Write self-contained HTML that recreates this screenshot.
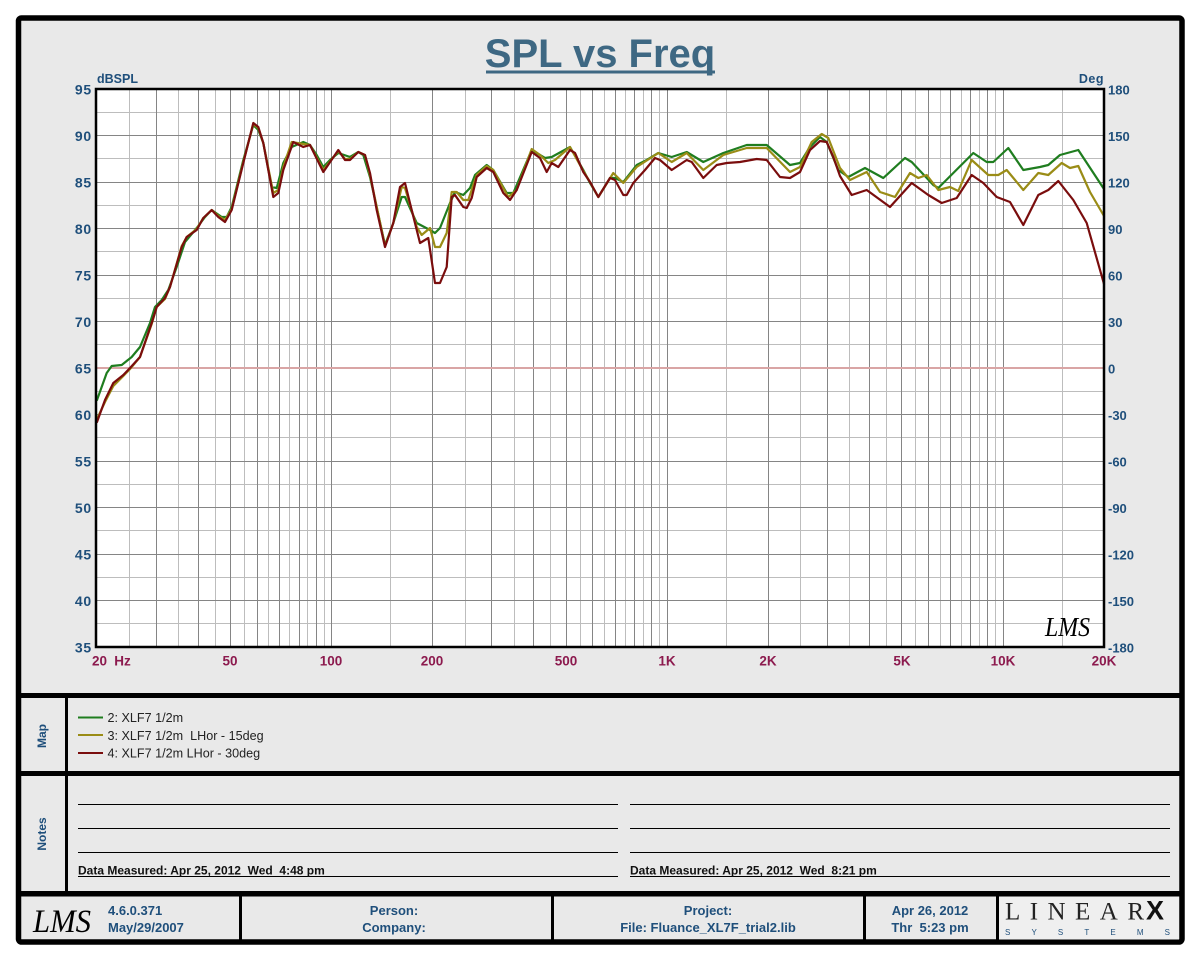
<!DOCTYPE html>
<html>
<head>
<meta charset="utf-8">
<style>
html,body{margin:0;padding:0;background:#ffffff;}
svg{display:block;}
</style>
</head>
<body>
<svg width="1200" height="960" viewBox="0 0 1200 960" xmlns="http://www.w3.org/2000/svg" font-family="'Liberation Sans', Arial, sans-serif">
  <!-- outer frame -->
  <rect x="18.5" y="18" width="1163.5" height="924" rx="3" fill="#e9e9e9" stroke="#000" stroke-width="5.5"/>

  <!-- title -->
  <text x="600" y="67" text-anchor="middle" font-size="40" font-weight="bold" fill="#3e6883">SPL vs Freq</text>
  <rect x="486" y="70.5" width="229" height="3" fill="#3e6883"/>

  <!-- plot background -->
  <rect x="96" y="89" width="1008" height="558" fill="#ffffff"/>

  <!-- light grid -->
  <g stroke="#bdbdbd" stroke-width="1" shape-rendering="crispEdges">
    <line x1="129.5" y1="89" x2="129.5" y2="647"/>
    <line x1="178.5" y1="89" x2="178.5" y2="647"/>
    <line x1="215.5" y1="89" x2="215.5" y2="647"/>
    <line x1="244.5" y1="89" x2="244.5" y2="647"/>
    <line x1="268.5" y1="89" x2="268.5" y2="647"/>
    <line x1="289.5" y1="89" x2="289.5" y2="647"/>
    <line x1="307.5" y1="89" x2="307.5" y2="647"/>
    <line x1="324.5" y1="89" x2="324.5" y2="647"/>
    <line x1="390.5" y1="89" x2="390.5" y2="647"/>
    <line x1="465.5" y1="89" x2="465.5" y2="647"/>
    <line x1="514.5" y1="89" x2="514.5" y2="647"/>
    <line x1="550.5" y1="89" x2="550.5" y2="647"/>
    <line x1="580.5" y1="89" x2="580.5" y2="647"/>
    <line x1="604.5" y1="89" x2="604.5" y2="647"/>
    <line x1="625.5" y1="89" x2="625.5" y2="647"/>
    <line x1="643.5" y1="89" x2="643.5" y2="647"/>
    <line x1="659.5" y1="89" x2="659.5" y2="647"/>
    <line x1="726.5" y1="89" x2="726.5" y2="647"/>
    <line x1="800.5" y1="89" x2="800.5" y2="647"/>
    <line x1="849.5" y1="89" x2="849.5" y2="647"/>
    <line x1="886.5" y1="89" x2="886.5" y2="647"/>
    <line x1="915.5" y1="89" x2="915.5" y2="647"/>
    <line x1="940.5" y1="89" x2="940.5" y2="647"/>
    <line x1="961.5" y1="89" x2="961.5" y2="647"/>
    <line x1="979.5" y1="89" x2="979.5" y2="647"/>
    <line x1="995.5" y1="89" x2="995.5" y2="647"/>
    <line x1="1062.5" y1="89" x2="1062.5" y2="647"/>
    <line x1="97" y1="112.5" x2="1104" y2="112.5"/>
    <line x1="97" y1="158.5" x2="1104" y2="158.5"/>
    <line x1="97" y1="205.5" x2="1104" y2="205.5"/>
    <line x1="97" y1="251.5" x2="1104" y2="251.5"/>
    <line x1="97" y1="298.5" x2="1104" y2="298.5"/>
    <line x1="97" y1="344.5" x2="1104" y2="344.5"/>
    <line x1="97" y1="391.5" x2="1104" y2="391.5"/>
    <line x1="97" y1="437.5" x2="1104" y2="437.5"/>
    <line x1="97" y1="484.5" x2="1104" y2="484.5"/>
    <line x1="97" y1="530.5" x2="1104" y2="530.5"/>
    <line x1="97" y1="577.5" x2="1104" y2="577.5"/>
    <line x1="97" y1="623.5" x2="1104" y2="623.5"/>
  </g>
  <!-- dark grid -->
  <g stroke="#858585" stroke-width="1" shape-rendering="crispEdges">
    <line x1="156.5" y1="89" x2="156.5" y2="647"/>
    <line x1="198.5" y1="89" x2="198.5" y2="647"/>
    <line x1="230.5" y1="89" x2="230.5" y2="647"/>
    <line x1="257.5" y1="89" x2="257.5" y2="647"/>
    <line x1="279.5" y1="89" x2="279.5" y2="647"/>
    <line x1="299.5" y1="89" x2="299.5" y2="647"/>
    <line x1="316.5" y1="89" x2="316.5" y2="647"/>
    <line x1="331.5" y1="89" x2="331.5" y2="647"/>
    <line x1="432.5" y1="89" x2="432.5" y2="647"/>
    <line x1="491.5" y1="89" x2="491.5" y2="647"/>
    <line x1="533.5" y1="89" x2="533.5" y2="647"/>
    <line x1="566.5" y1="89" x2="566.5" y2="647"/>
    <line x1="592.5" y1="89" x2="592.5" y2="647"/>
    <line x1="615.5" y1="89" x2="615.5" y2="647"/>
    <line x1="634.5" y1="89" x2="634.5" y2="647"/>
    <line x1="651.5" y1="89" x2="651.5" y2="647"/>
    <line x1="667.5" y1="89" x2="667.5" y2="647"/>
    <line x1="768.5" y1="89" x2="768.5" y2="647"/>
    <line x1="827.5" y1="89" x2="827.5" y2="647"/>
    <line x1="869.5" y1="89" x2="869.5" y2="647"/>
    <line x1="901.5" y1="89" x2="901.5" y2="647"/>
    <line x1="928.5" y1="89" x2="928.5" y2="647"/>
    <line x1="950.5" y1="89" x2="950.5" y2="647"/>
    <line x1="970.5" y1="89" x2="970.5" y2="647"/>
    <line x1="987.5" y1="89" x2="987.5" y2="647"/>
    <line x1="1003.5" y1="89" x2="1003.5" y2="647"/>
    <line x1="97" y1="135.5" x2="1104" y2="135.5"/>
    <line x1="97" y1="182.5" x2="1104" y2="182.5"/>
    <line x1="97" y1="228.5" x2="1104" y2="228.5"/>
    <line x1="97" y1="275.5" x2="1104" y2="275.5"/>
    <line x1="97" y1="321.5" x2="1104" y2="321.5"/>
    <line x1="97" y1="414.5" x2="1104" y2="414.5"/>
    <line x1="97" y1="461.5" x2="1104" y2="461.5"/>
    <line x1="97" y1="507.5" x2="1104" y2="507.5"/>
    <line x1="97" y1="554.5" x2="1104" y2="554.5"/>
    <line x1="97" y1="600.5" x2="1104" y2="600.5"/>
  </g>
  <!-- zero reference line -->
  <line x1="97" y1="368" x2="1104" y2="368" stroke="#d9a5a5" stroke-width="2"/>

  <!-- curves -->
  <g fill="none" stroke-width="2.2" stroke-linejoin="round" stroke-linecap="round">
    <polyline stroke="#1f7d1f" points="97,400 106.7,373 111.7,366 121.7,365 131.7,357 140,347 150,323 155,307 161.7,300 168.3,290 176.7,267 185,242 196.7,228 205,217 211.7,210 221.7,217 226.7,217 231.7,207 243.3,160 253.3,125 258.3,130 263.3,143 271.7,187 276.7,188 283.3,163 291.7,147 303.3,142 310,145 316.7,155 323.3,167 330,160 338.3,153 350,157 358.3,152 363.3,155 370,177 385,245 393.3,223 401.7,197 405,197 416.7,223 430,230 435,233 440,228 450,203 455,192 463.3,195 470,188 475,175 486.7,165 493.3,170 506.7,193 513.3,193 531.7,150 545,158 551.7,157 570,147 583.3,170 590,183 598.3,197 610,178 615,178 623.3,182 636.7,165 646.7,160 658.3,153 671.7,157 686.7,152 703.3,162 723.3,153 746.7,145 766.7,145 790,165 800,163 810,147 820,137 826.7,142 838.3,170 848.3,177 865,168 883.3,178 905,158 911.7,162 933.3,185 938.3,188 953.3,173 973.3,153 986.7,162 993.3,162 1008.3,148 1023.3,170 1040,167 1048.3,165 1060,155 1078.3,150 1103.3,188"/>
    <polyline stroke="#9a8c16" points="97,419 105,402 113.3,386 123.3,376 130,369 140,357 151.7,324 156.7,307 165,299 170,287 181.7,246 186.7,237 196.7,229 203.3,218 211.7,210 218.3,216 225,220 231.7,209 243.3,162 253.3,124 258.3,128 263.3,143 273.3,193 278.3,190 283.3,167 291.7,142 303.3,144 310,145 323.3,170 338.3,151 345,159 350,159 358.3,152 365,155 370,175 385,246 393.3,223 401.7,187 405,188 416.7,227 421.7,235 430,228 435,247 440,247 446.7,233 451.7,192 456.7,192 463.3,200 468.3,200 476.7,175 486.7,166 493.3,170 508.3,197 516.7,190 531.7,149 540,155 548.3,163 555,160 570,147 583.3,171 590,182 598.3,197 613.3,173 623.3,183 636.7,167 658.3,153 671.7,162 686.7,153 703.3,170 723.3,155 746.7,148 766.7,148 790,172 800,167 811.7,142 821.7,134 828.3,138 840,168 850,180 866.7,172 880,192 895,197 910,173 918.3,178 926.7,175 938.3,190 950,187 958.3,191 971.7,160 988.3,175 998.3,175 1006.7,170 1023.3,190 1038.3,173 1048.3,175 1061.7,163 1070,168 1078.3,166 1090,192 1104,216"/>
    <polyline stroke="#7a0d0d" points="97,422 105,400 113.3,383 123.3,375 130,368 140,357 151.7,323 156.7,307 165,298 170,287 181.7,247 186.7,237 196.7,230 203.3,218 211.7,210 218.3,217 225,222 231.7,210 243.3,163 253.3,123 258.3,127 263.3,143 273.3,197 278.3,193 283.3,170 293.3,142 303.3,147 310,145 323.3,172 338.3,150 345,160 350,160 358.3,152 365,155 370,173 376.7,210 385,247 393.3,223 400,187 405,183 411.7,210 420,243 428.3,238 435,283 440,283 446.7,267 451.7,197 455,195 463.3,207 466.7,208 471.7,198 476.7,177 486.7,168 493.3,172 503.3,193 510,200 516.7,190 531.7,152 540,158 546.7,172 551.7,163 558.3,167 570,150 575,153 583.3,172 590,182 598.3,197 610,178 615,180 623.3,195 626.7,195 633.3,183 645,170 655,158 660,160 671.7,170 686.7,160 691.7,162 703.3,178 716.7,165 726.7,163 740,162 756.7,159 766.7,160 780,177 790,178 800,172 810,150 820,141 826.7,142 833.3,157 840,176 851.7,195 866.7,190 890,207 911.7,183 928.3,195 941.7,203 956.7,198 971.7,175 983.3,183 996.7,197 1010,202 1023.3,225 1038.3,195 1048.3,190 1058.3,181 1073.3,200 1086.7,223 1104,284"/>
  </g>

  <!-- plot frame -->
  <rect x="96" y="89" width="1008" height="558" fill="none" stroke="#000" stroke-width="2.5"/>

  <!-- LMS mark in plot -->
  <text x="1045" y="636" font-family="'Liberation Serif', serif" font-style="italic" font-size="27" fill="#000" textLength="45" lengthAdjust="spacingAndGlyphs">LMS</text>

  <!-- axis titles -->
  <text x="97" y="83" font-size="12.5" font-weight="bold" fill="#1f4f7b">dBSPL</text>
  <text x="1104" y="83" font-size="12.5" font-weight="bold" fill="#1f4f7b" text-anchor="end" letter-spacing="0.5">Deg</text>

  <!-- left y labels -->
  <g font-size="14" font-weight="bold" fill="#1f4f7b" text-anchor="end" letter-spacing="0.8">
    <text x="92" y="94.5">95</text>
    <text x="92" y="141">90</text>
    <text x="92" y="187.5">85</text>
    <text x="92" y="234">80</text>
    <text x="92" y="280.5">75</text>
    <text x="92" y="327">70</text>
    <text x="92" y="373.5">65</text>
    <text x="92" y="420">60</text>
    <text x="92" y="466.5">55</text>
    <text x="92" y="513">50</text>
    <text x="92" y="559.5">45</text>
    <text x="92" y="606">40</text>
    <text x="92" y="652.5">35</text>
  </g>
  <!-- right y labels -->
  <g font-size="13" font-weight="bold" fill="#1f4f7b">
    <text x="1108" y="94.5">180</text>
    <text x="1108" y="141">150</text>
    <text x="1108" y="187.5">120</text>
    <text x="1108" y="234">90</text>
    <text x="1108" y="280.5">60</text>
    <text x="1108" y="327">30</text>
    <text x="1108" y="373.5">0</text>
    <text x="1108" y="420">-30</text>
    <text x="1108" y="466.5">-60</text>
    <text x="1108" y="513">-90</text>
    <text x="1108" y="559.5">-120</text>
    <text x="1108" y="606">-150</text>
    <text x="1108" y="652.5">-180</text>
  </g>
  <!-- x labels -->
  <g font-size="13.5" font-weight="bold" fill="#8c1a4e" text-anchor="middle">
    <text x="99.5" y="665.5">20</text>
    <text x="122.5" y="665.5">Hz</text>
    <text x="230" y="665.5">50</text>
    <text x="331" y="665.5">100</text>
    <text x="432" y="665.5">200</text>
    <text x="566" y="665.5">500</text>
    <text x="667" y="665.5">1K</text>
    <text x="768" y="665.5">2K</text>
    <text x="902" y="665.5">5K</text>
    <text x="1003" y="665.5">10K</text>
    <text x="1104" y="665.5">20K</text>
  </g>

  <!-- section separators -->
  <rect x="18" y="693" width="1164" height="5" fill="#000"/>
  <rect x="18" y="771" width="1164" height="5" fill="#000"/>
  <rect x="18" y="891" width="1164" height="5.5" fill="#000"/>
  <rect x="65" y="698" width="3" height="193" fill="#000"/>

  <!-- logo cell background -->
  <rect x="999" y="896.5" width="180" height="43" fill="#efefef"/>
  <!-- footer dividers -->
  <rect x="239" y="896" width="3" height="44" fill="#000"/>
  <rect x="551" y="896" width="3" height="44" fill="#000"/>
  <rect x="863" y="896" width="3" height="44" fill="#000"/>
  <rect x="996" y="896" width="3" height="44" fill="#000"/>

  <!-- side labels -->
  <text transform="translate(46,736) rotate(-90)" text-anchor="middle" font-size="12" font-weight="bold" fill="#1f4f7b">Map</text>
  <text transform="translate(46,834) rotate(-90)" text-anchor="middle" font-size="12" font-weight="bold" fill="#1f4f7b">Notes</text>

  <!-- legend -->
  <line x1="78" y1="717.5" x2="103" y2="717.5" stroke="#1f7d1f" stroke-width="2"/>
  <line x1="78" y1="735" x2="103" y2="735" stroke="#9a8c16" stroke-width="2"/>
  <line x1="78" y1="753" x2="103" y2="753" stroke="#7a0d0d" stroke-width="2"/>
  <g font-size="12.6" fill="#222">
    <text x="107.5" y="722">2: XLF7 1/2m</text>
    <text x="107.5" y="740" xml:space="preserve">3: XLF7 1/2m  LHor - 15deg</text>
    <text x="107.5" y="757.5">4: XLF7 1/2m LHor - 30deg</text>
  </g>

  <!-- notes lines -->
  <g stroke="#000" stroke-width="1" shape-rendering="crispEdges">
    <line x1="78" y1="804.5" x2="618" y2="804.5"/>
    <line x1="78" y1="828.5" x2="618" y2="828.5"/>
    <line x1="78" y1="852.5" x2="618" y2="852.5"/>
    <line x1="78" y1="876.5" x2="618" y2="876.5"/>
    <line x1="630" y1="804.5" x2="1170" y2="804.5"/>
    <line x1="630" y1="828.5" x2="1170" y2="828.5"/>
    <line x1="630" y1="852.5" x2="1170" y2="852.5"/>
    <line x1="630" y1="876.5" x2="1170" y2="876.5"/>
  </g>
  <g font-size="12" font-weight="bold" fill="#111">
    <text x="78" y="874.5" xml:space="preserve">Data Measured: Apr 25, 2012  Wed  4:48 pm</text>
    <text x="630" y="874.5" xml:space="preserve">Data Measured: Apr 25, 2012  Wed  8:21 pm</text>
  </g>

  <!-- footer -->
  <text x="33" y="932" font-family="'Liberation Serif', serif" font-style="italic" font-size="33" fill="#000" textLength="58" lengthAdjust="spacingAndGlyphs">LMS</text>
  <g font-size="13" font-weight="bold" fill="#1f4f7b">
    <text x="108" y="915">4.6.0.371</text>
    <text x="108" y="932">May/29/2007</text>
    <text x="394" y="915" text-anchor="middle">Person:</text>
    <text x="394" y="932" text-anchor="middle">Company:</text>
    <text x="708" y="915" text-anchor="middle">Project:</text>
    <text x="708" y="932" text-anchor="middle">File: Fluance_XL7F_trial2.lib</text>
    <text x="930" y="915" text-anchor="middle">Apr 26, 2012</text>
    <text x="930" y="932" text-anchor="middle" xml:space="preserve">Thr  5:23 pm</text>
  </g>
  <!-- LinearX logo -->
  <text x="1005" y="919.5" font-family="'Liberation Serif', serif" font-size="25" fill="#222" textLength="139" lengthAdjust="spacing">LINEAR</text>
  <text x="1146" y="919.5" font-size="27" font-weight="bold" fill="#111">X</text>
  <text x="1005" y="935" font-size="8" fill="#1f4f7b" textLength="165" lengthAdjust="spacing">SYSTEMS</text>
</svg>
</body>
</html>
